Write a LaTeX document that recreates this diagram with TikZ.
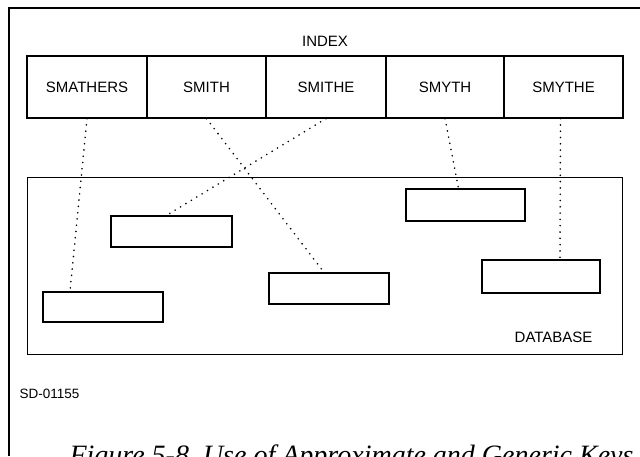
\documentclass[tikz,border=0pt]{standalone}
\usepackage{fontspec}
\setmainfont{Liberation Serif}
\newfontfamily\labelfont{Liberation Sans}
\begin{document}
\begin{tikzpicture}[x=1pt,y=-1pt,
  cell/.style={draw,line width=1.2pt,minimum height=62pt},
  recbox/.style={draw,line width=1.2pt},
  lbl/.style={font=\labelfont\fontsize{15}{17}\selectfont},
  link/.style={line width=1.8pt,line cap=round,dash pattern=on 0pt off 6.3pt}]
\useasboundingbox (0,0) rectangle (640,456);
\clip (0,0) rectangle (640,456);
% page frame: left and top rules only
\draw[line width=2.4pt] (9,456) -- (9,8) -- (640,8);
% index row
\node[lbl] (index) at (325,41) {INDEX};
\node[cell,minimum width=120pt] (smathers) at (87,87) {};
\node[cell,minimum width=119pt] (smith) at (206.5,87) {};
\node[cell,minimum width=120pt] (smithe) at (326,87) {};
\node[cell,minimum width=118pt] (smyth) at (445,87) {};
\node[cell,minimum width=119pt] (smythe) at (563.5,87) {};
\node[lbl] at (smathers) {SMATHERS};
\node[lbl] at (smith) {SMITH};
\node[lbl] at (smithe) {SMITHE};
\node[lbl] at (smyth) {SMYTH};
\node[lbl] at (smythe) {SMYTHE};
% database area
\node[draw,line width=0.9pt,minimum width=595pt,minimum height=177pt] (db) at (324.5,265.5) {};
\node[lbl,anchor=east] (dblabel) at (596,337) {DATABASE};
\node[recbox,minimum width=120pt,minimum height=30pt] (r1) at (103,307) {};
\node[recbox,minimum width=121pt,minimum height=31pt] (r2) at (171.5,231.5) {};
\node[recbox,minimum width=119pt,minimum height=32pt] (r3) at (465.5,205) {};
\node[recbox,minimum width=120pt,minimum height=31pt] (r4) at (329,288.5) {};
\node[recbox,minimum width=118pt,minimum height=33pt] (r5) at (541,276.5) {};
% record pointers
\draw[link] (smathers.south) -- ([xshift=-33pt]r1.north);
\draw[link] (smith.south) -- ([xshift=-5pt]r4.north);
\draw[link] (smithe.south) -- ([xshift=-5pt]r2.north);
\draw[link] (smyth.south) -- ([xshift=-7pt]r3.north);
\draw[link] ([xshift=-3pt]smythe.south) -- ([xshift=19pt]r5.north);
% footer
\node[font=\labelfont\fontsize{13.5}{15}\selectfont,anchor=west] (code) at (16,394) {SD-01155};
\node[font=\itshape\fontsize{28}{30}\selectfont,anchor=base west] (caption) at (66,464) {Figure 5-8\enspace Use of Approximate and Generic Keys};
\end{tikzpicture}
\end{document}
